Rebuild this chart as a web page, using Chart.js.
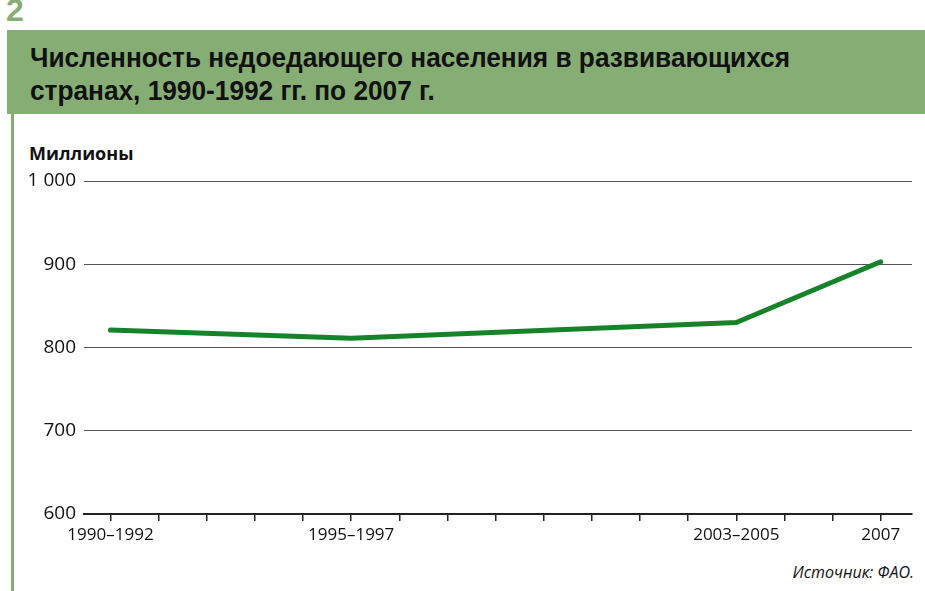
<!DOCTYPE html>
<html>
<head>
<meta charset="utf-8">
<script src="https://cdn.jsdelivr.net/npm/chart.js@4/dist/chart.umd.min.js"></script>
<style>
  html, body { margin:0; padding:0; background:#fff; }
  body { width:925px; height:591px; position:relative; overflow:hidden; font-family:"Open Sans", sans-serif; }
  #num { position:absolute; left:6px; top:-8px; font: bold 32px "Liberation Sans Narrow", sans-serif; color:#86ae74; }
  #band { position:absolute; left:7px; top:30px; width:918px; height:84px; background:#86ae74; }
  #vline { position:absolute; left:11px; top:114px; width:3px; height:477px; background:#86ae74; }
  .tl { position:absolute; left:30px; font: bold 28px "Liberation Sans Narrow", sans-serif; color:#111; white-space:nowrap; transform-origin:0 0; }
  #unit { position:absolute; left:29px; top:141px; font: bold 18px "Open Sans", sans-serif; color:#111; }
  #src { position:absolute; right:11px; top:561px; font: italic 16px "Open Sans", sans-serif; color:#111; }
  #wrap { position:absolute; left:0; top:0; width:925px; height:591px; }
</style>
</head>
<body>
<div id="num">2</div>
<div id="band"></div>
<div id="vline"></div>
<div class="tl" id="t1" style="top:42px">Численность недоедающего населения в развивающихся</div>
<div class="tl" id="t2" style="top:75px">странах, 1990-1992 гг. по 2007 г.</div>
<div id="unit">Миллионы</div>
<div id="src">Источник: ФАО.</div>
<div id="wrap"><canvas id="c" width="925" height="591"></canvas></div>
<script>
const years = [1991, 1996, 2004, 2007];
const periodLabels = ["1990–1992", "1995–1997", "2003–2005", "2007"];
const undernourished = [821, 811, 830, 903];
const yTicks = [600, 700, 800, 900, 1000];

// fit title lines to measured widths
(function(){
  const t1 = document.getElementById('t1');
  const w = t1.getBoundingClientRect().width;
  const s = 760 / w;
  t1.style.transform = 'scaleX(' + s + ')';
  document.getElementById('t2').style.transform = 'scaleX(' + s + ')';
})();

const labelMap = {};
years.forEach((y, i) => labelMap[y] = periodLabels[i]);

new Chart(document.getElementById('c'), {
  type: 'line',
  data: {
    datasets: [{
      data: years.map((y, i) => ({ x: y, y: undernourished[i] })),
      borderColor: '#16832b',
      borderWidth: 5,
      borderCapStyle: 'round',
      borderJoinStyle: 'round',
      pointRadius: 0,
      tension: 0
    }]
  },
  options: {
    responsive: false,
    animation: false,
    layout: { padding: { left: 0, right: 13, top: 181, bottom: 0 } },
    plugins: { legend: { display: false }, tooltip: { enabled: false } },
    scales: {
      x: {
        type: 'linear',
        min: 1990.45,
        max: 2007.65,
        afterBuildTicks: (axis) => {
          const t = [];
          for (let y = 1991; y <= 2007; y++) t.push({ value: y });
          axis.ticks = t;
        },
        afterFit: (axis) => { axis.height = 77; },
        grid: { drawOnChartArea: false, drawTicks: true, tickLength: 7, tickColor: '#222', lineWidth: 1.5 },
        border: { display: true, color: '#222', width: 2 },
        ticks: {
          autoSkip: false,
          maxRotation: 0,
          padding: 4,
          color: '#111',
          font: { family: 'Open Sans', size: 17 },
          callback: (v) => labelMap[v] || ''
        }
      },
      y: {
        min: 600,
        max: 1000,
        afterBuildTicks: (axis) => { axis.ticks = yTicks.map(v => ({ value: v })); },
        afterFit: (axis) => { axis.width = 84; },
        grid: { color: '#555', lineWidth: 1, drawTicks: false },
        border: { display: false },
        ticks: {
          padding: 8,
          color: '#111',
          font: { family: 'Open Sans', size: 19 },
          callback: (v) => v >= 1000 ? (Math.floor(v/1000) + ' ' + String(v % 1000).padStart(3, '0')) : String(v)
        }
      }
    }
  }
});
</script>
</body>
</html>
